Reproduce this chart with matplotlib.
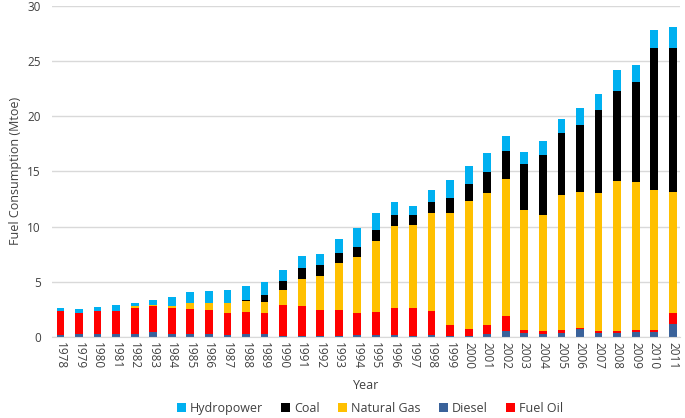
import numpy as np
import matplotlib
matplotlib.use("Agg")
import matplotlib.pyplot as plt

# ─── Data (Mtoe) ──────────────────────────────────────────────────────────────
years = list(range(1978, 2012))

diesel = [0.15, 0.24, 0.30, 0.24, 0.30, 0.48, 0.30, 0.30, 0.24, 0.15,
          0.24, 0.27, 0.06, 0.09, 0.06, 0.06, 0.18, 0.18, 0.18, 0.06,
          0.18, 0.06, 0.10, 0.25, 0.51, 0.39, 0.30, 0.36, 0.76, 0.36,
          0.36, 0.45, 0.45, 1.15]
fuel_oil = [2.18, 1.96, 2.09, 2.15, 2.36, 2.36, 2.36, 2.27, 2.24, 2.05,
            2.06, 1.93, 2.81, 2.69, 2.36, 2.36, 1.97, 2.06, 2.42, 2.54,
            2.15, 1.03, 0.65, 0.81, 1.36, 0.21, 0.21, 0.24, 0.09, 0.15,
            0.15, 0.15, 0.15, 1.05]
natural_gas = [0.00, 0.00, 0.00, 0.00, 0.10, 0.09, 0.12, 0.51, 0.60, 0.88,
               0.96, 0.96, 1.42, 2.51, 3.11, 4.29, 5.10, 6.46, 7.43, 7.55,
               8.91, 10.15, 11.60, 11.94, 12.48, 10.94, 10.58, 12.30, 12.32, 12.49,
               13.66, 13.48, 12.67, 10.97]
coal = [0.00, 0.00, 0.00, 0.00, 0.00, 0.00, 0.00, 0.00, 0.00, 0.00,
        0.12, 0.64, 0.81, 0.99, 1.00, 0.93, 0.91, 0.97, 1.00, 0.88,
        1.00, 1.33, 1.50, 1.96, 2.48, 4.14, 5.38, 5.57, 6.02, 7.55,
        8.07, 8.98, 12.93, 13.03]
hydropower = [0.27, 0.30, 0.36, 0.48, 0.35, 0.45, 0.85, 1.00, 1.09, 1.18,
              1.24, 1.16, 0.94, 1.06, 1.02, 1.21, 1.69, 1.54, 1.24, 0.82,
              1.06, 1.63, 1.60, 1.69, 1.36, 1.06, 1.27, 1.26, 1.51, 1.48,
              1.96, 1.60, 1.60, 1.90]

# stacking order bottom -> top
series = [
    ("Diesel",      diesel,      "#3A629A"),
    ("Fuel Oil",    fuel_oil,    "#FF0000"),
    ("Natural Gas", natural_gas, "#FFC000"),
    ("Coal",        coal,        "#000000"),
    ("Hydropower",  hydropower,  "#00B0F0"),
]
legend_order = ["Hydropower", "Coal", "Natural Gas", "Diesel", "Fuel Oil"]

plt.rcParams["font.family"] = ["Open Sans", "DejaVu Sans"]

fig = plt.figure(figsize=(6.85, 4.18), dpi=100)
ax = fig.add_axes([0.076, 0.194, 0.917, 0.792])

x = np.arange(len(years))
bottom = np.zeros(len(years))
handles = {}
for name, vals, col in series:
    vals = np.array(vals)
    h = ax.bar(x, vals, width=0.42, bottom=bottom, color=col, label=name,
               linewidth=0)
    handles[name] = h
    bottom += vals

ax.set_xlim(-0.45, len(years) - 0.6)
ax.set_ylim(0, 30)
ax.set_yticks(range(0, 31, 5))
ax.set_xticks(x)
ax.set_xticklabels([str(y) for y in years], rotation=270, fontsize=8.5,
                   color="#404040")
ax.tick_params(axis="y", labelsize=8.5, colors="#404040", length=0, pad=8)
ax.tick_params(axis="x", length=0, pad=4)

ax.grid(True, axis="y", color="#D9D9D9", lw=1)
ax.set_axisbelow(True)
for s in ["top", "right", "left"]:
    ax.spines[s].set_visible(False)
ax.spines["bottom"].set_color("#D9D9D9")

ax.set_xlabel("Year", fontsize=9, color="#404040", labelpad=7)
ax.set_ylabel("Fuel Consumption (Mtoe)", fontsize=9, color="#404040",
              labelpad=4)

fig.legend([handles[n] for n in legend_order], legend_order,
           loc="lower center", bbox_to_anchor=(0.54, -0.02), ncol=5,
           frameon=False, fontsize=9, handlelength=0.7, handleheight=0.7,
           handletextpad=0.3, columnspacing=1.5, labelcolor="#404040")

plt.savefig("out.png", dpi=100)
plt.close()
